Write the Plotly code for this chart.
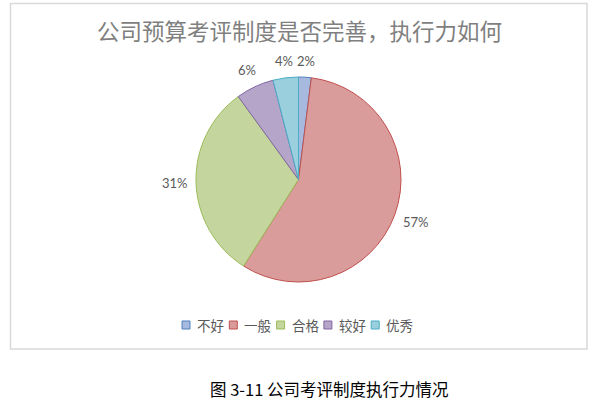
import math
import plotly.graph_objects as go

categories = ["不好", "一般", "合格", "较好", "优秀"]
values = [2, 57, 31, 6, 4]
fill_colors = ["#A7B9DF", "#DA9C9A", "#C4D69E", "#B5A5C9", "#9ACFDE"]
line_colors = ["#4F81BD", "#C0504D", "#9BBB59", "#8064A2", "#4BACC6"]

title_text = "公司预算考评制度是否完善，执行力如何"
caption_text = "图 3-11 公司考评制度执行力情况"

W, H = 603, 408
cx, cy, r = 298.5, 179.5, 102.5

fig = go.Figure(go.Pie(
    labels=categories,
    values=values,
    sort=False,
    direction="clockwise",
    rotation=0,
    marker=dict(colors=fill_colors, line=dict(color=line_colors, width=1)),
    textinfo="none",
    domain=dict(x=[(cx - r) / W, (cx + r) / W], y=[1 - (cy + r) / H, 1 - (cy - r) / H]),
    hoverinfo="label+percent",
    showlegend=False,
))

annotations = []
shapes = []

# percentage labels placed outside each slice (best-fit style), derived from values
total = sum(values)
cum = 0.0
lab_font = dict(family="Lato, Open Sans, sans-serif", size=13, color="#595959")
for v in values:
    mid = (cum + v / 2) / total * 2 * math.pi
    cum += v
    txt = f"{round(v / total * 100)}%"
    tw = 7.5 * len(txt)
    th = 12
    sx, sy = math.sin(mid), -math.cos(mid)
    d = r + 10 + abs(sx) * tw / 2 + abs(sy) * th / 2
    px, py = cx + sx * d, cy + sy * d
    annotations.append(dict(text=txt, xref="paper", yref="paper", x=px / W, y=1 - py / H,
                            showarrow=False, xanchor="center", yanchor="middle", font=lab_font))

# legend built from the category list
leg_x0, leg_pitch, leg_y = 182, 47.3, 325
for i, (cat, fc, lc) in enumerate(zip(categories, fill_colors, line_colors)):
    sx0 = leg_x0 + i * leg_pitch
    shapes.append(dict(type="rect", xref="paper", yref="paper",
                       x0=sx0 / W, x1=(sx0 + 8) / W, y0=1 - (leg_y + 4) / H, y1=1 - (leg_y - 4) / H,
                       line=dict(color=lc, width=1), fillcolor=fc))
    annotations.append(dict(text=cat, xref="paper", yref="paper", x=(sx0 + 13) / W, y=1 - leg_y / H,
                            showarrow=False, xanchor="left", yanchor="middle",
                            font=dict(family="Noto Sans CJK SC", size=13.5, color="#595959")))

shapes.append(dict(
    type="rect", xref="paper", yref="paper",
    x0=10.5 / W, x1=587 / W, y0=1 - 349 / H, y1=1 - 3.5 / H,
    line=dict(color="#D9D9D9", width=1.5), fillcolor="rgba(0,0,0,0)",
))

annotations += [
    dict(text=title_text, xref="paper", yref="paper", x=299 / W, y=1 - 30 / H,
         showarrow=False, xanchor="center", yanchor="middle",
         font=dict(family="Noto Sans CJK SC", size=22.5, color="#7F7F7F")),
    dict(text=caption_text, xref="paper", yref="paper", x=330 / W, y=1 - 389 / H,
         showarrow=False, xanchor="center", yanchor="middle",
         font=dict(family="Noto Sans CJK SC", size=16.5, color="#000000")),
]

fig.update_layout(
    width=W, height=H,
    margin=dict(l=0, r=0, t=0, b=0),
    paper_bgcolor="white",
    plot_bgcolor="white",
    showlegend=False,
    shapes=shapes,
    annotations=annotations,
)

fig.write_html("out.html", config={"displayModeBar": False},
               post_script="document.body.style.margin='0px';")
